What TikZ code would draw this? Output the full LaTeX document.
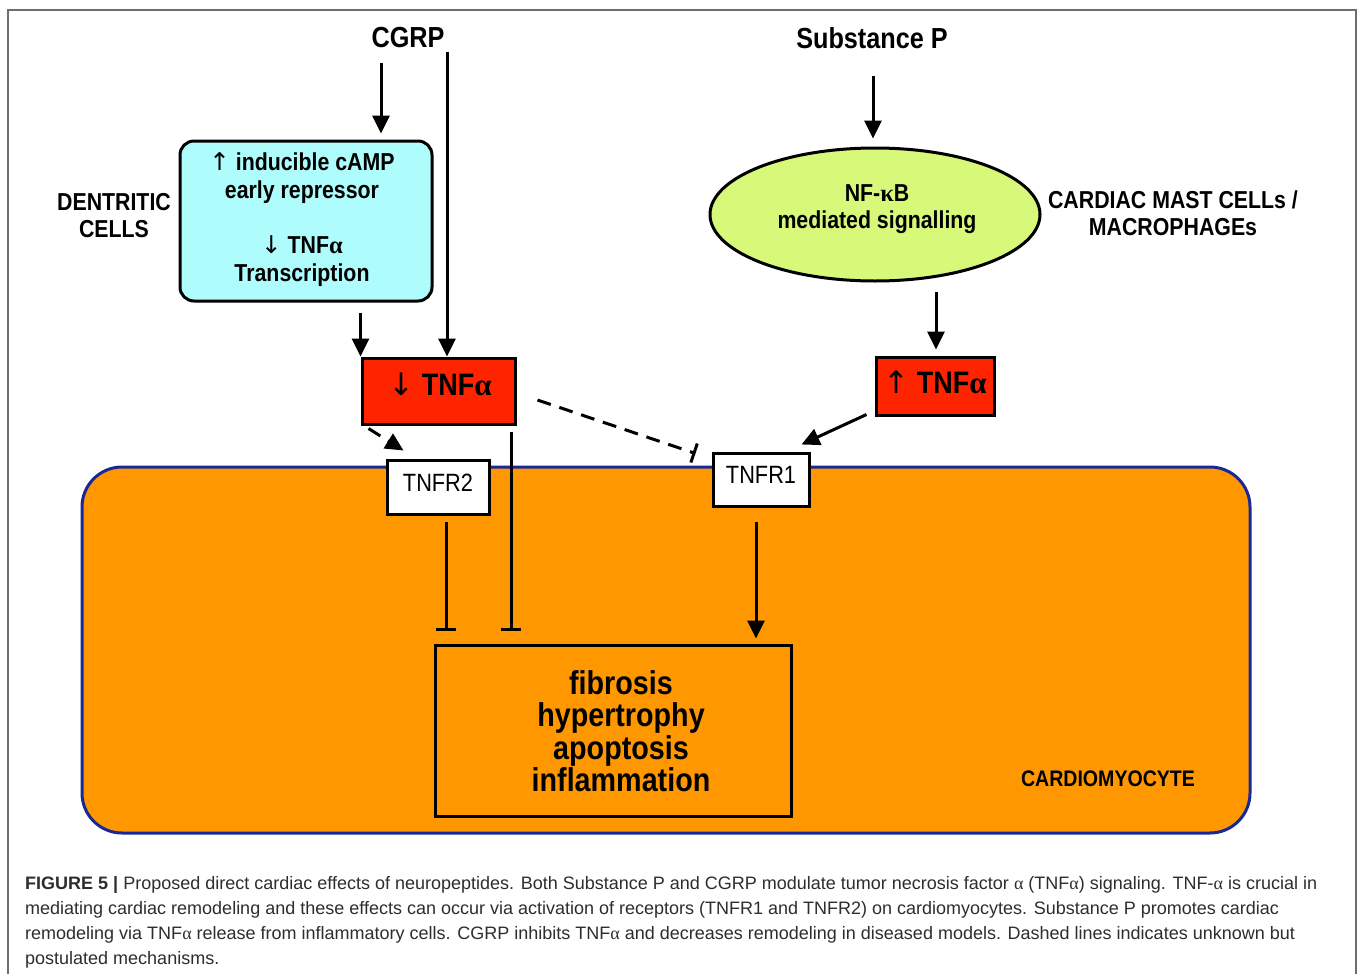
\documentclass[tikz,border=0pt]{standalone}
\usepackage{fontspec}
\setmainfont{Liberation Sans}
\newfontfamily\lab{Liberation Sans}[FakeStretch=0.87]
\newfontfamily\capf{Liberation Sans}
\newfontfamily\grk{Liberation Serif}
\newfontfamily\arr{DejaVu Sans}
\usetikzlibrary{arrows.meta,shapes.geometric,calc}
\definecolor{cyanfill}{RGB}{174,252,252}
\definecolor{greenfill}{RGB}{216,248,122}
\definecolor{redfill}{RGB}{255,36,0}
\definecolor{orangefill}{RGB}{255,152,0}
\definecolor{navy}{RGB}{26,40,150}
\definecolor{framegray}{RGB}{110,110,110}
\definecolor{captext}{RGB}{45,45,45}
\newcommand{\al}{{\grk α}}
\newcommand{\ka}{{\grk κ}}
\newcommand{\up}{{\arr\mdseries ↑}}
\newcommand{\dn}{{\arr\mdseries ↓}}
\tikzset{
  lbl/.style={font=\lab\bfseries\fontsize{24.5}{28}\selectfont, inner sep=0pt, align=center},
  head/.style={font=\lab\bfseries\fontsize{29}{32}\selectfont, inner sep=0pt},
  conn/.style={line width=3pt, -{Triangle[length=18pt,width=17pt]}},
  inh/.style={line width=3pt, -{Bar[width=20pt,line width=3pt]}},
  box/.style={draw=black, line width=3pt, inner sep=0pt, align=center},
  recbox/.style={box, fill=white, font=\lab\fontsize{25}{28}\selectfont},
  redbox/.style={box, fill=redfill, font=\lab\bfseries\fontsize{31}{34}\selectfont},
  capline/.style={anchor=west, inner sep=0pt, text=captext, font=\capf\fontsize{18}{20}\selectfont},
}
\begin{document}
\begin{tikzpicture}[x=1pt,y=-1pt]
\useasboundingbox (0,0) rectangle (1357,974);
\draw[framegray, line width=1.5pt] (8,10) rectangle (1356,1000);

% cardiomyocyte
\node[draw=navy, line width=3pt, fill=orangefill, rounded corners=40pt, minimum width=1168pt, minimum height=366pt, inner sep=0pt] (cell) at (666,650) {};
\node[lbl, font=\lab\bfseries\fontsize{22.5}{26}\selectfont] (cardio) at (1108,779) {CARDIOMYOCYTE};

% top labels
\node[head] (cgrp) at (408,38) {CGRP};
\node[head] (subp) at (872,38) {Substance P};

% dendritic cells
\node[box, fill=cyanfill, rounded corners=14pt, minimum width=252pt, minimum height=160pt] (cyan) at (306,221) {};
\node[lbl] (cyantext) at (302,220) {\up\ inducible cAMP\\ early repressor\\[27pt] \dn\ TNF\al\\ Transcription};
\node[lbl, font=\lab\bfseries\fontsize{24.5}{27}\selectfont] (dc) at (114,215.5) {DENTRITIC\\CELLS};

% NF-kB
\node[draw=black, line width=3pt, fill=greenfill, ellipse, minimum width=330pt, minimum height=133pt, inner sep=0pt] (nfkb) at (875,214.5) {};
\node[lbl, font=\lab\bfseries\fontsize{24.5}{27}\selectfont] (nfkbtext) at (877,209) {NF-\ka B\\ mediated signalling};
\node[lbl, font=\lab\bfseries\fontsize{24.5}{27}\selectfont] (mast) at (1173,213.5) {CARDIAC MAST CELLs /\\MACROPHAGEs};

% TNF boxes
\node[redbox, minimum width=153pt, minimum height=66pt] (tnfdown) at (438.5,391) {};
\node[inner sep=0pt, font=\lab\bfseries\fontsize{31}{34}\selectfont] (tnfdowntext) at (440,384) {\dn\ TNF\al};
\node[redbox, minimum width=118pt, minimum height=58pt] (tnfup) at (935,386) {};
\node[inner sep=0pt, font=\lab\bfseries\fontsize{31}{34}\selectfont] (tnfuptext) at (935,382) {\up\ TNF\al};

% receptors
\node[recbox, minimum width=102pt, minimum height=54pt] (tnfr2) at (438,487) {};
\node[inner sep=0pt, font=\lab\fontsize{25}{28}\selectfont] (tnfr2text) at (438,483) {TNFR2};
\node[recbox, minimum width=96pt, minimum height=53pt] (tnfr1) at (761,479.5) {};
\node[inner sep=0pt, font=\lab\fontsize{25}{28}\selectfont] (tnfr1text) at (761,475) {TNFR1};

% outcome
\node[box, minimum width=356pt, minimum height=171pt] (out) at (613,730.5) {};
\node[lbl, font=\lab\bfseries\fontsize{33}{32.5}\selectfont] (outtext) at (621,731) {fibrosis\\ hypertrophy\\ apoptosis\\ inflammation};

% connectors
\coordinate (c1) at (381,63);
\draw[conn, shorten >=6pt] (c1) -- (c1 |- cyan.north);
\coordinate (c2) at (447,52);
\draw[conn] (c2) -- (c2 |- tnfdown.north);
\draw[conn, shorten <=10pt] (cyan.south -| tnfdown.north west) -- (tnfdown.north west);
\draw[line width=3pt, dash pattern=on 14pt off 9pt, -{Triangle[length=18pt,width=17pt]}] ($(tnfdown.south west)+(8,3)$) -- ($(tnfr2.north west)+(18,-8)$);
\coordinate (c3) at (511,432);
\draw[inh, shorten >=13pt] (c3) -- (c3 |- out.north);
\draw[line width=3pt, dash pattern=on 14pt off 9pt, -{Bar[width=20pt,line width=3pt]}] ($(tnfdown.east)+(21,9)$) -- ($(tnfr1.north west)+(-16,2)$);
\coordinate (c4) at (446,522);
\draw[inh, shorten >=13pt] (c4) -- (c4 |- out.north);
\coordinate (c5) at (756,522);
\draw[conn, shorten >=5pt] (c5) -- (c5 |- out.north);
\coordinate (c6) at (873,76);
\draw[conn, shorten >=8pt] (c6) -- (c6 |- nfkb.north);
\coordinate (c7) at (936,292);
\draw[conn, shorten >=6pt] (c7) -- (c7 |- tnfup.north);
\draw[conn] ($(tnfup.south west)+(-8,-2)$) -- ($(tnfr1.north east)+(-9,-7)$);

% caption
\node[capline] (cap1) at (25,885) {{\bfseries FIGURE 5 |} Proposed direct cardiac effects of neuropeptides. Both Substance P and CGRP modulate tumor necrosis factor \al\ (TNF\al) signaling. TNF-\al\ is crucial in};
\node[capline] (cap2) at (25,910) {mediating cardiac remodeling and these effects can occur via activation of receptors (TNFR1 and TNFR2) on cardiomyocytes. Substance P promotes cardiac};
\node[capline] (cap3) at (25,935) {remodeling via TNF\al\ release from inflammatory cells. CGRP inhibits TNF\al\ and decreases remodeling in diseased models. Dashed lines indicates unknown but};
\node[capline] (cap4) at (25,960) {postulated mechanisms.};
\end{tikzpicture}
\end{document}
